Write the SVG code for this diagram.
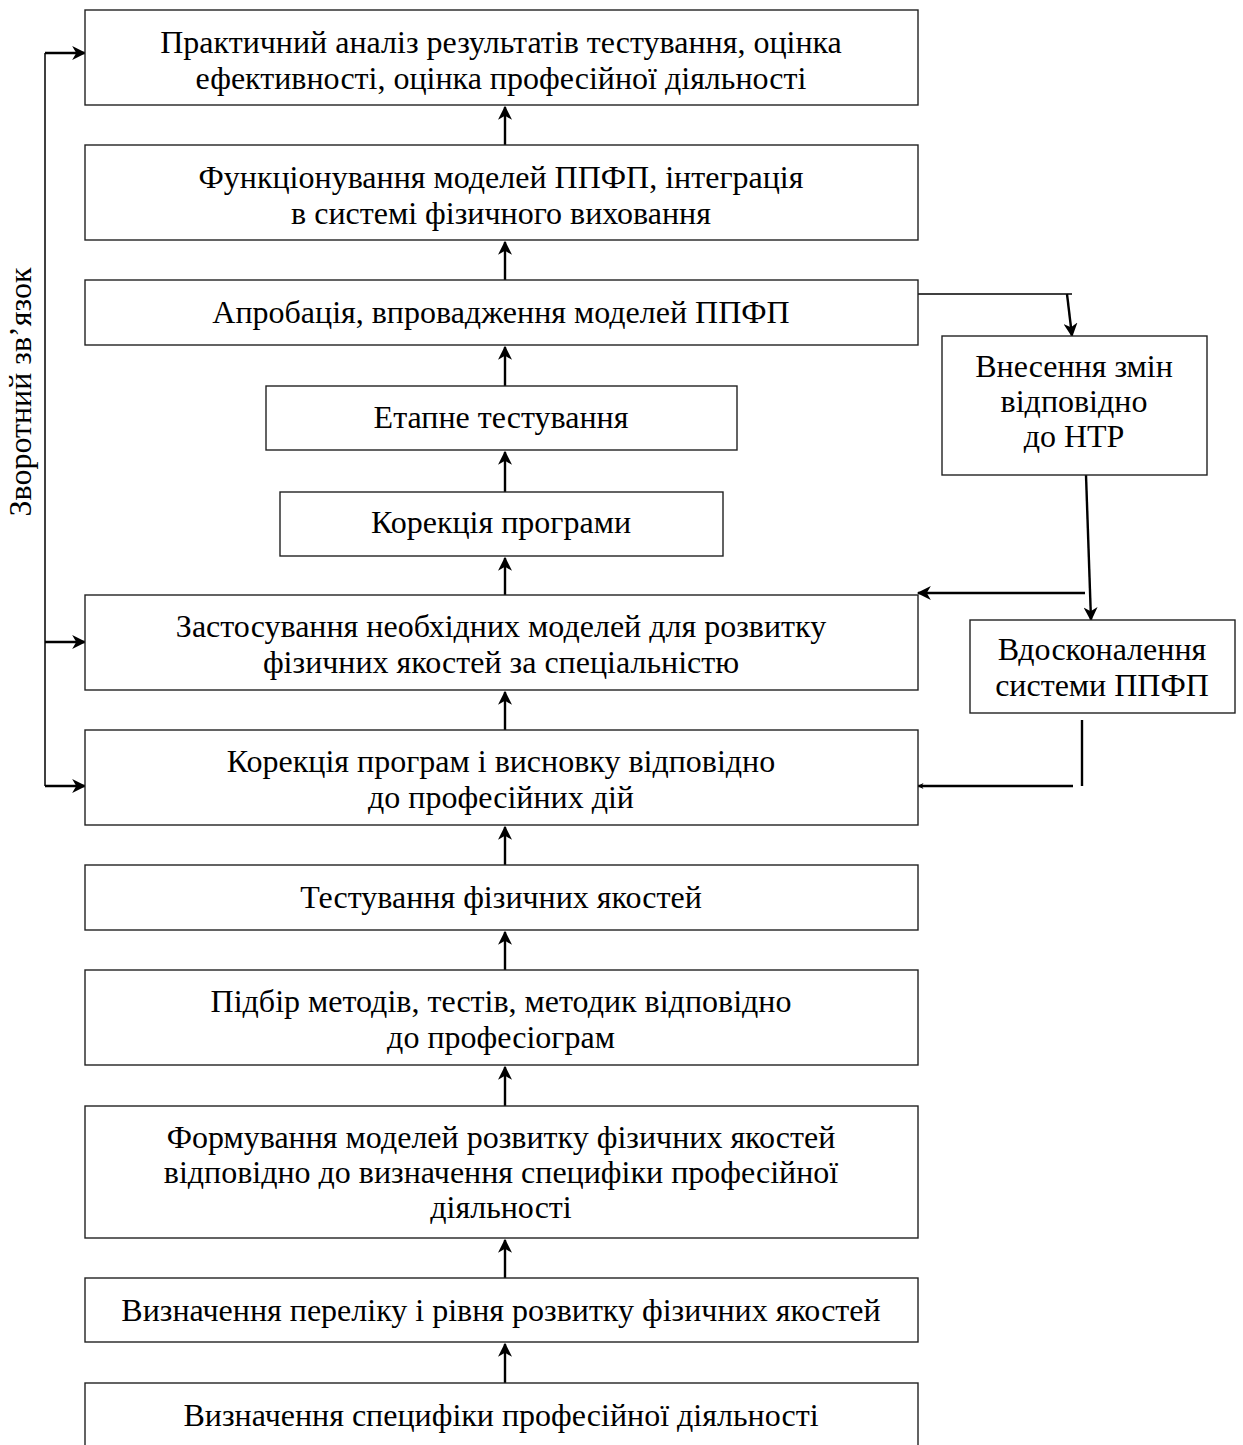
<svg xmlns="http://www.w3.org/2000/svg" width="1243" height="1445" viewBox="0 0 1243 1445">
<defs>
<style>
.box{fill:#fff;stroke:#222;stroke-width:1.4}
.t{font-family:"Liberation Serif","Times New Roman",serif;font-size:32px;fill:#000;text-anchor:middle}
.c{fill:none;stroke:#000;stroke-width:2.4}
.thin{fill:none;stroke:#000;stroke-width:1.5}
</style>
<marker id="ah" viewBox="0 0 12 12" refX="11" refY="6" markerWidth="15" markerHeight="14" markerUnits="userSpaceOnUse" orient="auto">
<path d="M0,0 L12,6 L0,12 L3.5,6 z" fill="#000"/>
</marker>
<marker id="ahs" viewBox="0 0 12 12" refX="11" refY="6" markerWidth="6" markerHeight="6" markerUnits="userSpaceOnUse" orient="auto">
<path d="M0,0 L12,6 L0,12 L3.5,6 z" fill="#000"/>
</marker>
</defs>
<rect width="1243" height="1445" fill="#fff"/>

<g id="connectors">
<path class="c" d="M505,145 V107" marker-end="url(#ah)"/>
<path class="c" d="M505,280 V242" marker-end="url(#ah)"/>
<path class="c" d="M505,386 V347" marker-end="url(#ah)"/>
<path class="c" d="M505,492 V452" marker-end="url(#ah)"/>
<path class="c" d="M505,595 V558" marker-end="url(#ah)"/>
<path class="c" d="M505,730 V692" marker-end="url(#ah)"/>
<path class="c" d="M505,865 V827" marker-end="url(#ah)"/>
<path class="c" d="M505,970 V932" marker-end="url(#ah)"/>
<path class="c" d="M505,1106 V1067" marker-end="url(#ah)"/>
<path class="c" d="M505,1278 V1240" marker-end="url(#ah)"/>
<path class="c" d="M505,1383 V1344" marker-end="url(#ah)"/>
<!-- feedback -->
<path class="thin" d="M45,786 V53"/>
<path class="c" d="M45,53 H85" marker-end="url(#ah)"/>
<path class="c" d="M45,642 H85" marker-end="url(#ah)"/>
<path class="c" d="M45,786 H85" marker-end="url(#ah)"/>
<!-- right side -->
<path class="thin" d="M918,294 H1072"/>
<path class="c" d="M1067,294 L1072,336" marker-end="url(#ah)"/>
<path class="c" d="M1086,475 L1091,620" marker-end="url(#ah)"/>
<path class="c" d="M1085,593 H918" marker-end="url(#ah)"/>
<path class="c" d="M1082,720 V786"/>
<path class="c" d="M1073,786 H918" marker-end="url(#ahs)"/>
</g>

<g id="n1"><rect class="box" x="85" y="10" width="833" height="95"/>
<text class="t" x="501" y="53">Практичний аналіз результатів тестування, оцінка</text>
<text class="t" x="501" y="89">ефективності, оцінка професійної діяльності</text></g>

<g id="n2"><rect class="box" x="85" y="145" width="833" height="95"/>
<text class="t" x="501" y="188">Функціонування моделей ППФП, інтеграція</text>
<text class="t" x="501" y="224">в системі фізичного виховання</text></g>

<g id="n3"><rect class="box" x="85" y="280" width="833" height="65"/>
<text class="t" x="501" y="323">Апробація, впровадження моделей ППФП</text></g>

<g id="n4"><rect class="box" x="266" y="386" width="471" height="64"/>
<text class="t" x="501" y="428">Етапне тестування</text></g>

<g id="n5"><rect class="box" x="280" y="492" width="443" height="64"/>
<text class="t" x="501" y="533">Корекція програми</text></g>

<g id="n6"><rect class="box" x="85" y="595" width="833" height="95"/>
<text class="t" x="501" y="637">Застосування необхідних моделей для розвитку</text>
<text class="t" x="501" y="673">фізичних якостей за спеціальністю</text></g>

<g id="n7"><rect class="box" x="85" y="730" width="833" height="95"/>
<text class="t" x="501" y="772">Корекція програм і висновку відповідно</text>
<text class="t" x="501" y="808">до професійних дій</text></g>

<g id="n8"><rect class="box" x="85" y="865" width="833" height="65"/>
<text class="t" x="501" y="908">Тестування фізичних якостей</text></g>

<g id="n9"><rect class="box" x="85" y="970" width="833" height="95"/>
<text class="t" x="501" y="1012">Підбір методів, тестів, методик відповідно</text>
<text class="t" x="501" y="1048">до професіограм</text></g>

<g id="n10"><rect class="box" x="85" y="1106" width="833" height="132"/>
<text class="t" x="501" y="1148">Формування моделей розвитку фізичних якостей</text>
<text class="t" x="501" y="1183">відповідно до визначення специфіки професійної</text>
<text class="t" x="501" y="1218">діяльності</text></g>

<g id="n11"><rect class="box" x="85" y="1278" width="833" height="64"/>
<text class="t" x="501" y="1321">Визначення переліку і рівня розвитку фізичних якостей</text></g>

<g id="n12"><rect class="box" x="85" y="1383" width="833" height="80"/>
<text class="t" x="501" y="1426">Визначення специфіки професійної діяльності</text></g>

<g id="n13"><rect class="box" x="942" y="336" width="265" height="139"/>
<text class="t" x="1074" y="377">Внесення змін</text>
<text class="t" x="1074" y="412">відповідно</text>
<text class="t" x="1074" y="447">до НТР</text></g>

<g id="n14"><rect class="box" x="970" y="620" width="265" height="93"/>
<text class="t" x="1102" y="660">Вдосконалення</text>
<text class="t" x="1102" y="696">системи ППФП</text></g>

<g id="feedback-label">
<text class="t" transform="translate(31,392) rotate(-90)">Зворотний зв’язок</text></g>
</svg>
